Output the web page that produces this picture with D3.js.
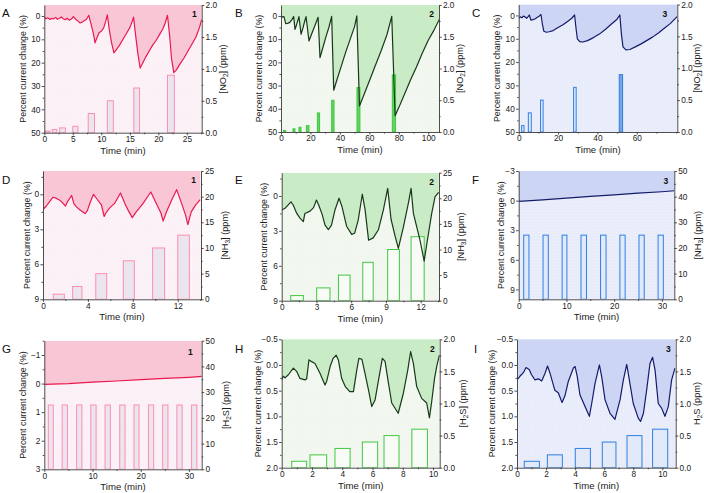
<!DOCTYPE html>
<html><head><meta charset="utf-8">
<script src="https://cdn.jsdelivr.net/npm/d3@7"></script>
<style>body{margin:0;background:#fff}svg{display:block}text{font-family:"Liberation Sans",Arial,sans-serif}</style>
</head><body><svg id="c" width="704" height="493"></svg>
<script>
// ---------- data: [time(min), percent current change] ----------
const curveA = [[0,0.5],[0.3,1.2],[0.6,0.8],[1,1.5],[1.3,1.0],[1.6,1.3],[2,0.6],[2.3,1.4],[2.7,1.0],[3,0.4],[3.3,1.2],[3.7,1.6],[4,1.0],[4.4,1.8],[4.8,1.2],[5.1,0.3],[5.5,1.4],[5.9,2.2],[6.3,3.0],[6.7,2.6],[7,2.0],[7.4,1.4],[7.8,-0.3],[8.2,3.5],[8.6,7.5],[8.9,11.5],[9.2,9.5],[9.6,7.2],[10,6.5],[10.4,5.2],[10.8,2.0],[11.05,-0.5],[11.4,6.0],[11.8,11.5],[12.2,15.8],[12.6,14.5],[13.2,12.5],[13.8,10.0],[14.4,7.5],[15,5.0],[15.4,2.5],[15.65,0.5],[16,8],[16.4,16],[16.8,22.3],[17.2,20.5],[17.8,17.5],[18.4,15],[19,12.5],[19.6,10.5],[20.2,8],[20.8,5.5],[21.2,3],[21.6,-0.3],[22,9],[22.3,18],[22.7,24.3],[23.2,23],[23.8,20.5],[24.5,18],[25.2,15],[25.9,12],[26.6,9],[27.2,5],[27.6,1.5]];
const curveB = [[0,0],[1,0.5],[2,0.3],[2.5,1.5],[3.2,3.3],[4.5,3.2],[6,2.8],[7.5,1.5],[8.6,0.3],[9.5,5.8],[10.5,4],[11.5,1.8],[12.2,0.3],[13.6,7.9],[15,5],[16,2.5],[17,0.3],[19,10.8],[21,7.5],[23,4.2],[25.2,0.6],[26.5,18],[28.5,13.5],[30.5,9],[32.5,5],[34.4,0.2],[35.8,32],[38,27.5],[41,21.5],[44,15.5],[47,10],[50,4.5],[51.5,0],[53.3,38.8],[56,34.5],[60,28],[64,21.5],[68,15],[72,8],[75.2,0.2],[77.5,43],[80,39.5],[84,33.5],[88,27.5],[92,22],[96,16],[100,10.5],[104,6],[107.5,1.5]];
const curveC = [[0,1.2],[0.8,0.6],[1.6,1.0],[2.4,0.3],[3.2,0.6],[4,1.2],[4.8,0.5],[5.4,-0.2],[6.2,2.0],[7.2,1.8],[8.2,1.5],[9.5,0.8],[10.5,0.2],[11.3,-0.4],[12.1,4],[12.8,6.8],[14,7.2],[15.5,7.0],[17.5,6.5],[20,5.2],[22.5,4],[25,2.5],[27,1.2],[28.4,-0.2],[29.2,6],[29.8,10],[31,11.2],[32.5,11.4],[35,10.8],[38,9.5],[41,8],[44,6],[47,3.8],[50,1.6],[51.4,-0.2],[52.2,8],[53,13.5],[54.5,14.8],[56.5,14.6],[59,13.6],[62,12.3],[65,10.8],[68,9.3],[71,7.5],[74,5.5],[77,3.5],[80.5,0.5]];
const curveD = [[0,1.3],[0.3,1.0],[0.6,0.6],[0.9,0.25],[1.2,0.35],[1.5,0.5],[1.8,0.8],[2.0,1.0],[2.2,0.6],[2.55,0.1],[2.75,0.8],[3.0,1.1],[3.3,1.35],[3.75,1.65],[3.95,1.4],[4.2,0.7],[4.5,0.0],[4.8,0.4],[5.2,0.9],[5.45,1.9],[5.6,1.6],[5.9,1.2],[6.4,0.75],[6.9,-0.12],[7.3,0.8],[7.6,1.4],[7.95,2.0],[8.3,1.5],[8.9,0.8],[9.6,-0.2],[10.1,0.8],[10.5,1.6],[10.7,2.3],[11.0,1.5],[11.45,0.5],[11.9,-0.4],[12.35,0.8],[12.7,1.8],[12.9,2.6],[13.2,1.5],[13.6,0.9],[14,0.45]];
const curveE = [[0,1.2],[0.3,1.05],[0.58,0.75],[0.8,0.5],[1.0,0.8],[1.3,1.5],[1.58,1.9],[1.87,2.2],[2.0,1.5],[2.45,1.3],[2.75,1.0],[3.0,0.35],[3.2,0.8],[3.5,1.6],[3.74,2.5],[4.03,2.9],[4.3,2.5],[4.6,1.2],[4.95,0.2],[5.2,0.9],[5.6,2.6],[6.04,3.3],[6.3,3.2],[6.6,2.1],[6.96,-0.15],[7.2,1.2],[7.5,3.8],[7.9,3.6],[8.35,2.9],[8.78,1.2],[9.15,-0.65],[9.44,2.0],[9.8,3.5],[10.07,4.5],[10.5,2.7],[10.94,0.6],[11.17,-0.65],[11.37,1.5],[11.94,3.8],[12.3,5.6],[12.5,4.3],[12.95,1.5],[13.24,0.05],[13.55,-0.3]];
const curveF = [[0,0.07],[5,-0.08],[10,-0.25],[15,-0.42],[20,-0.58],[25,-0.75],[30,-0.9],[32.6,-1.0]];
const curveG = [[0,0.03],[5,0.0],[10,-0.05],[15,-0.09],[20,-0.14],[25,-0.18],[30,-0.22],[32.7,-0.25]];
const curveH = [[0,0.29],[0.1,0.22],[0.22,0.25],[0.44,0.19],[0.77,0.06],[1.0,0.13],[1.2,0.26],[1.54,0.29],[1.65,0.27],[1.8,-0.1],[1.95,-0.07],[2.2,-0.03],[2.53,0.16],[2.86,0.39],[2.97,0.32],[3.2,0.03],[3.4,-0.13],[3.6,-0.19],[3.75,-0.09],[3.96,0.26],[4.2,0.42],[4.5,0.52],[4.74,0.52],[4.96,0.1],[5.1,-0.13],[5.3,-0.11],[5.5,0.16],[5.73,0.48],[5.95,0.81],[6.17,0.68],[6.4,0.29],[6.65,-0.13],[6.83,-0.07],[7.05,0.35],[7.27,0.74],[7.7,0.94],[8.04,0.55],[8.33,0.1],[8.52,-0.26],[8.7,-0.03],[8.92,0.42],[9.25,0.65],[9.58,0.74],[9.76,1.03],[9.9,0.74],[10.1,0.26],[10.24,0.03],[10.42,-0.19]];
const curveI = [[0,0.29],[0.2,0.22],[0.44,0.15],[0.62,0.05],[0.84,0.09],[1.0,0.19],[1.24,0.29],[1.47,0.27],[1.7,0.31],[1.93,0.16],[2.1,0.02],[2.27,0.16],[2.6,0.49],[2.84,0.54],[3.1,0.73],[3.3,0.6],[3.53,0.32],[3.88,0.06],[4.0,0.03],[4.15,0.23],[4.33,0.58],[4.68,0.81],[4.98,1.0],[5.14,0.75],[5.37,0.36],[5.67,0.0],[5.83,0.23],[6.06,0.68],[6.4,0.94],[6.74,1.06],[7.09,0.68],[7.32,0.29],[7.55,-0.01],[7.73,0.29],[8.0,0.75],[8.35,1.04],[8.5,1.1],[8.7,0.94],[8.92,0.49],[9.15,-0.03],[9.33,-0.15],[9.5,0.1],[9.72,0.75],[9.95,0.84],[10.18,1.0],[10.41,0.81],[10.64,0.29],[10.87,0.06]];

// ---------- gas pulses: [start(min), end(min), concentration(ppm)] ----------
const barsA = [[0.1,1.0,0.025],[1.4,2.2,0.05],[2.7,3.7,0.075],[5.0,5.9,0.1],[7.7,8.8,0.3],[11.05,12.1,0.5],[15.7,16.7,0.7],[21.6,22.8,0.9]];
const barsB = [[1.6,3.2,0.025],[8.1,9.5,0.05],[12.2,13.6,0.075],[17.2,19.0,0.1],[24.7,26.2,0.3],[34.4,36.0,0.5],[51.6,53.6,0.7],[75.6,77.8,0.9]];
const barsC = [[1.5,2.7,0.1],[4.9,6.4,0.3],[11.1,12.4,0.5],[27.9,29.2,0.7],[51.1,52.8,0.9]];
const barsD = [[0.92,1.9,1],[2.64,3.47,2.5],[4.7,5.67,5],[7.15,8.13,7.5],[9.76,10.83,10],[12.0,13.03,12.5]];
const barsE = [[0.78,1.87,1],[3.02,4.17,2.5],[4.9,5.9,5],[7.0,7.9,7.5],[9.15,10.16,10],[11.17,12.3,12.5]];
const barsF = [[1.05,2.15,25],[5.1,6.2,25],[9.1,10.1,25],[13.05,14.2,25],[17.15,18.3,25],[21.2,22.3,25],[25.2,26.3,25],[29.2,30.3,25]];
const barsG = [[0.83,1.86,25],[3.7,4.8,25],[6.7,7.8,25],[9.65,10.75,25],[12.6,13.7,25],[15.65,16.75,25],[18.6,19.65,25],[21.6,22.7,25],[24.55,25.65,25],[27.5,28.6,25],[30.55,31.65,25]];
const barsH = [[0.66,1.65,0.1],[1.87,2.97,0.2],[3.52,4.52,0.3],[5.33,6.34,0.4],[6.76,7.75,0.5],[8.6,9.63,0.6]];
const barsI = [[0.5,1.54,0.1],[2.09,3.12,0.2],[4.01,5.05,0.3],[5.87,6.81,0.4],[7.57,8.6,0.5],[9.33,10.37,0.6]];

// ---------- ticks ----------
const ticksX_A = [0,5,10,15,20,25], ticksX_B = [0,20,40,60,80,100], ticksX_C = [0,20,40,60];
const ticksX_D = [0,4,8,12], ticksX_E = [0,3,6,9,12], ticksX_FG = [0,10,20,30], ticksX_HI = [0,2,4,6,8,10];
const ticksY_ABC = [0,10,20,30,40,50], ticksY_DE = [0,3,6,9], ticksY_F = [-3,0,3,6,9], ticksY_G = [-1,0,1,2,3], ticksY_HI = [-0.5,0,0.5,1,1.5,2];
const ticksR_NO2 = [0,0.5,1,1.5,2], ticksR_NH3 = [0,5,10,15,20,25], ticksR_50 = [0,10,20,30,40,50], ticksR_H2S = [0,0.5,1,1.5,2];

const themes = {
  1:{above:'#f9c6d6', below:'#fcf0f7', line:'#e9194f', bs:'#ff8db2', bf:'#ebe5ef'},
  2:{above:'#c9ebc5', below:'#f1f7ee', line:'#18381b', bs:'#40c840', bf:'#f8fbf6'},
  3:{above:'#ccd5f4', below:'#e8ecfa', line:'#141b6b', bs:'#2f7fe3', bf:'#e2e9f9'}
};

const minorOf = (ticks, step, lo, hi) => {
  const out=[]; for (let v=ticks[0]-step; v<=hi+1e-9; v+=step){ if(v>=lo-1e-9 && !ticks.some(t=>Math.abs(t-v)<1e-9)) out.push(+v.toFixed(4)); }
  return out;
};

const panels = [
 {L:'A', th:1, num:'1', box:[44.3,5,157.4,127.7], xd:[0,27.6], yd:[-4.7,50], rd:[0,2], xt:ticksX_A, xm:2.5, yt:ticksY_ABC, ym:5, rt:ticksR_NO2, rm:0.25, yf:'d', rf:'.1f', curve:curveA, bars:barsA, gas:['[NO','2','] (ppm)'], yl:-21, rl:21, nx:-5, ny:12},
 {L:'B', th:2, num:'2', box:[281,5,158,127], xd:[0,107.3], yd:[-4.7,50], rd:[0,2], xt:ticksX_B, xm:10, yt:ticksY_ABC, ym:5, rt:ticksR_NO2, rm:0.25, yf:'d', rf:'.1f', curve:curveB, bars:barsB, gas:['[NO','2','] (ppm)'], yl:-22, rl:21, nx:-5, ny:12, fillAll:'#63d363'},
 {L:'C', th:3, num:'3', box:[518.7,4.5,158.6,127.5], xd:[0,80.6], yd:[-4.7,50], rd:[0,2], xt:ticksX_C, xm:10, yt:ticksY_ABC, ym:5, rt:ticksR_NO2, rm:0.25, yf:'d', rf:'.1f', curve:curveC, bars:barsC, gas:['[NO','2','] (ppm)'], yl:-22, rl:19.5, nx:-10, ny:12, lastFill:'#7aa3e2'},
 {L:'D', th:1, num:'1', box:[43,171,158,128.3], xd:[0,14.07], yd:[-2,9], rd:[0,25], xt:ticksX_D, xm:2, yt:ticksY_DE, ym:1.5, rt:ticksR_NH3, rm:2.5, yf:'d', rf:'d', curve:curveD, bars:barsD, gas:['[NH','3','] (ppm)'], yl:-16, rl:24, nx:-5, ny:12},
 {L:'E', th:2, num:'2', box:[281.7,172.7,157.3,128], xd:[0,13.58], yd:[-2,9], rd:[0,25], xt:ticksX_E, xm:1.5, yt:ticksY_DE, ym:1.5, rt:ticksR_NH3, rm:2.5, yf:'d', rf:'d', curve:curveE, bars:barsE, gas:['[NH','3','] (ppm)'], yl:-18, rl:22, nx:-5, ny:12},
 {L:'F', th:3, num:'3', box:[518.7,171,155.6,128.3], xd:[0,32.6], yd:[-3,10], rd:[0,50], xt:ticksX_FG, xm:5, yt:ticksY_F, ym:1.5, rt:ticksR_50, rm:5, yf:'d', rf:'d', curve:curveF, bars:barsF, gas:['[NH','3','] (ppm)'], yl:-18, rl:23, nx:-6, ny:13},
 {L:'G', th:1, num:'1', box:[44.3,340.7,157.4,128.6], xd:[0,32.65], yd:[-1.5,3], rd:[0,50], xt:ticksX_FG, xm:5, yt:ticksY_G, ym:0.5, rt:ticksR_50, rm:5, yf:'d', rf:'d', curve:curveG, bars:barsG, gas:['[H','2','S] (ppm)'], yl:-21, rl:24, nx:-9, ny:14},
 {L:'H', th:2, num:'2', box:[281.7,339.3,158,128.4], xd:[0,10.44], yd:[-0.5,2], rd:[0,2], xt:ticksX_HI, xm:1, yt:ticksY_HI, ym:0.25, rt:ticksR_H2S, rm:0.25, yf:'.1f', rf:'.1f', curve:curveH, bars:barsH, gas:['[H','2','S] (ppm)'], yl:-23.5, rl:23, nx:-5, ny:13},
 {L:'I', th:3, num:'3', box:[517,339.3,158.7,128.4], xd:[0,10.92], yd:[-0.5,2], rd:[0,2], xt:ticksX_HI, xm:1, yt:ticksY_HI, ym:0.25, rt:ticksR_H2S, rm:0.25, yf:'.1f', rf:'.1f', curve:curveI, bars:barsI, gas:['H','2','S (ppm)'], yl:-25.5, rl:21.5, nx:-5, ny:13}
];
const letterPos = {A:[2,17],B:[235,17],C:[472,17],D:[2,184],E:[235,184],F:[472,184],G:[2,353],H:[235,353],I:[474,353]};

const svg = d3.select('#c');
const defs = svg.append('defs');
Object.entries(themes).forEach(([k,t])=>{
  const p = defs.append('pattern').attr('id','dots'+k).attr('width',3).attr('height',3).attr('patternUnits','userSpaceOnUse');
  p.append('rect').attr('width',3).attr('height',3).attr('fill',t.below);
  p.append('circle').attr('cx',1.5).attr('cy',1.5).attr('r',0.5).attr('fill','#ffffff').attr('opacity',0.5);
});

const AX = '#3a3a3a', FS = 8.3;
function styleAxis(g){
  g.selectAll('path,line').attr('stroke',AX).attr('stroke-width',0.9);
  g.selectAll('text').attr('font-size',FS).attr('fill','#222').attr('font-family','"Liberation Sans",Arial,sans-serif');
}

panels.forEach((p,i)=>{
  const [bx,by,w,h] = p.box, t = themes[p.th];
  const g = svg.append('g').attr('transform',`translate(${bx},${by})`);
  const x = d3.scaleLinear().domain(p.xd).range([0,w]);
  const y = d3.scaleLinear().domain(p.yd).range([0,h]);
  const r = d3.scaleLinear().domain(p.rd).range([h,0]);
  const cid = 'clip'+p.L;
  defs.append('clipPath').attr('id',cid).append('rect').attr('width',w).attr('height',h);
  const plot = g.append('g').attr('clip-path',`url(#${cid})`);
  plot.append('rect').attr('width',w).attr('height',h).attr('fill',`url(#dots${p.th})`);
  plot.append('path').datum(p.curve)
    .attr('d', d3.area().x(d=>x(d[0])).y0(0).y1(d=>y(d[1])))
    .attr('fill', t.above);
  plot.selectAll('rect.bar').data(p.bars).join('rect').attr('class','bar')
    .attr('x',d=>x(d[0])).attr('width',d=>x(d[1])-x(d[0]))
    .attr('y',d=>r(d[2])).attr('height',d=>h-r(d[2]))
    .attr('fill',(d,j)=> p.fillAll ? p.fillAll : (p.lastFill && j===p.bars.length-1 ? p.lastFill : t.bf))
    .attr('stroke',t.bs).attr('stroke-width',1);
  plot.append('path').datum(p.curve)
    .attr('d', d3.line().x(d=>x(d[0])).y(d=>y(d[1])))
    .attr('fill','none').attr('stroke',t.line).attr('stroke-width',1.2).attr('stroke-linejoin','round');

  const xMin = minorOf(p.xt, p.xm, p.xd[0], p.xd[1]);
  const yMin = minorOf(p.yt, p.ym, p.yd[0], p.yd[1]);
  const rMin = minorOf(p.rt, p.rm, p.rd[0], p.rd[1]);
  g.append('g').attr('transform',`translate(0,${h})`)
    .call(d3.axisBottom(x).tickValues(p.xt).tickSize(2.6).tickPadding(1).tickSizeOuter(0).tickFormat(d3.format('d'))).call(styleAxis);
  g.append('g').attr('transform',`translate(0,${h})`)
    .call(d3.axisBottom(x).tickValues(xMin).tickSize(1.6).tickFormat('')).call(a=>a.select('.domain').remove()).call(styleAxis);
  g.append('g').call(d3.axisLeft(y).tickValues(p.yt).tickSize(2.6).tickPadding(1.3).tickSizeOuter(0).tickFormat(d3.format(p.yf))).call(styleAxis);
  g.append('g').call(d3.axisLeft(y).tickValues(yMin).tickSize(1.6).tickFormat('')).call(a=>a.select('.domain').remove()).call(styleAxis);
  g.append('g').attr('transform',`translate(${w},0)`)
    .call(d3.axisRight(r).tickValues(p.rt).tickSize(2.6).tickPadding(1.3).tickSizeOuter(0).tickFormat(d3.format(p.rf))).call(styleAxis);
  g.append('g').attr('transform',`translate(${w},0)`)
    .call(d3.axisRight(r).tickValues(rMin).tickSize(1.6).tickFormat('')).call(a=>a.select('.domain').remove()).call(styleAxis);

  g.append('text').attr('x',w/2).attr('y',h+21).attr('text-anchor','middle').attr('font-size',9.6).attr('fill','#222').text('Time (min)');
  g.append('text').attr('transform',`translate(${p.yl},${h/2}) rotate(-90)`).attr('text-anchor','middle').attr('dy','0.35em')
    .attr('font-size',8.8).attr('fill','#222').text('Percent current change (%)');
  const rt = g.append('text').attr('transform',`translate(${w+p.rl},${h/2}) rotate(-90)`).attr('text-anchor','middle').attr('dy','0.35em')
    .attr('font-size',9.2).attr('fill','#222');
  rt.append('tspan').text(p.gas[0]);
  rt.append('tspan').attr('font-size',6.5).attr('dy','2').text(p.gas[1]);
  rt.append('tspan').attr('dy','-2').text(p.gas[2]);
  g.append('text').attr('x',w+p.nx).attr('y',p.ny).attr('text-anchor','end').attr('font-size',8.5).attr('font-weight','bold').attr('fill','#111').text(p.num);
  svg.append('text').attr('x',letterPos[p.L][0]).attr('y',letterPos[p.L][1]).attr('font-size',11.5).attr('fill','#111').text(p.L);
});
</script></body></html>
